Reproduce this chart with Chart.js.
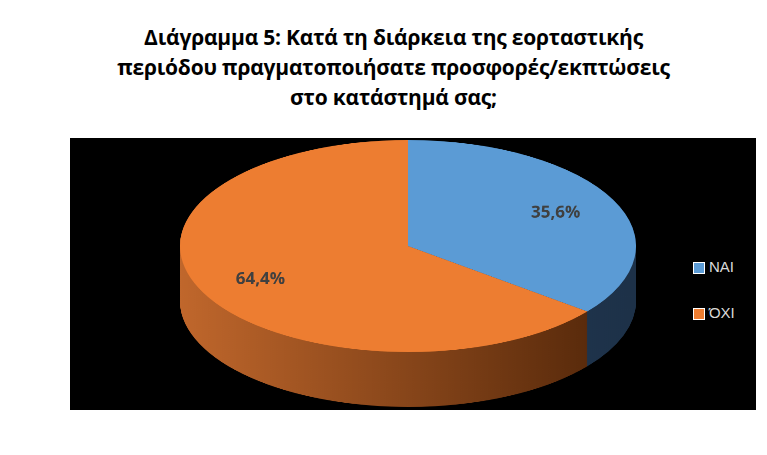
<!DOCTYPE html>
<html><head><meta charset="utf-8">
<script src="https://cdn.jsdelivr.net/npm/chart.js@4"></script>
<style>
body{margin:0;background:#fff;width:767px;height:455px;overflow:hidden;position:relative;font-family:"Open Sans","Noto Sans",sans-serif}
#title{position:absolute;left:0;width:787px;top:22px;text-align:center;font-weight:bold;font-size:21px;line-height:30px;color:#000;letter-spacing:-0.2px}
#plot{position:absolute;left:70px;top:138px;width:686px;height:272px;background:#000}
#wrap{position:absolute;left:180px;top:140px;width:456px;height:580px;transform:scaleY(0.465);transform-origin:0 0}
#legend{position:absolute;left:693px;top:258px;color:#d9d9d9;font-size:15px;font-family:"Liberation Sans",sans-serif}
#legend div{height:46px;display:flex;align-items:flex-start}
#legend span.sw{display:inline-block;width:10px;height:10px;margin:4px 4px 0 0;border:1px solid #fff}
</style></head>
<body>
<div id="title">Διάγραμμα 5: Κατά τη διάρκεια της εορταστικής<br>περιόδου πραγματοποιήσατε προσφορές/εκπτώσεις<br>στο κατάστημά σας;</div>
<div id="plot"></div>
<div id="wrap"><canvas id="pie" width="456" height="580" style="width:456px;height:580px"></canvas></div>
<div id="legend"></div>
<script>
const labels = ['ΝΑΙ', 'ΌΧΙ'];
const values = [35.6, 64.4];
const colors = ['#5b9bd5', '#ed7d31'];
const sideColors = [['#2a4564', '#1d3148'], ['#c0672c', '#4e2408']];
const depth = 118;
const squash = 0.465;

const legend = document.getElementById('legend');
labels.forEach((l, i) => {
    const d = document.createElement('div');
    d.innerHTML = `<span class="sw" style="background:${colors[i]}"></span>${l}`;
    legend.appendChild(d);
});

const pie3d = {
    id: 'pie3d',
    beforeDatasetsDraw(chart) {
        const ctx = chart.ctx;
        const arcs = chart.getDatasetMeta(0).data;
        arcs.forEach((arc, i) => {
            const g = ctx.createLinearGradient(arc.x - arc.outerRadius, 0, arc.x + arc.outerRadius, 0);
            g.addColorStop(0, sideColors[i][0]);
            g.addColorStop(1, sideColors[i][1]);
            for (let d = depth; d > 0; d -= 1) {
                ctx.beginPath();
                ctx.moveTo(arc.x, arc.y + d);
                ctx.arc(arc.x, arc.y + d, arc.outerRadius, arc.startAngle, arc.endAngle);
                ctx.closePath();
                ctx.fillStyle = g;
                ctx.fill();
            }
        });
    },
    afterDatasetsDraw(chart) {
        const ctx = chart.ctx;
        const arcs = chart.getDatasetMeta(0).data;
        arcs.forEach((arc, i) => {
            const mid = (arc.startAngle + arc.endAngle) / 2;
            const r = arc.outerRadius * 0.72;
            const x = arc.x + Math.cos(mid) * r;
            const y = arc.y + Math.sin(mid) * r;
            ctx.save();
            ctx.translate(x, y);
            ctx.scale(1, 1 / squash);
            ctx.font = 'bold 17px "Open Sans", sans-serif';
            ctx.fillStyle = '#404040';
            ctx.textAlign = 'center';
            ctx.textBaseline = 'middle';
            ctx.fillText(values[i].toFixed(1).replace('.', ',') + '%', 0, 0);
            ctx.restore();
        });
    }
};

new Chart(document.getElementById('pie'), {
    type: 'pie',
    data: { labels: labels, datasets: [{ data: values, backgroundColor: colors, borderWidth: 0 }] },
    options: {
        responsive: false, animation: false,
        devicePixelRatio: 1,
        layout: { padding: { bottom: 124 } },
        plugins: { legend: { display: false }, tooltip: { enabled: false } }
    },
    plugins: [pie3d]
});
</script>
</body></html>
